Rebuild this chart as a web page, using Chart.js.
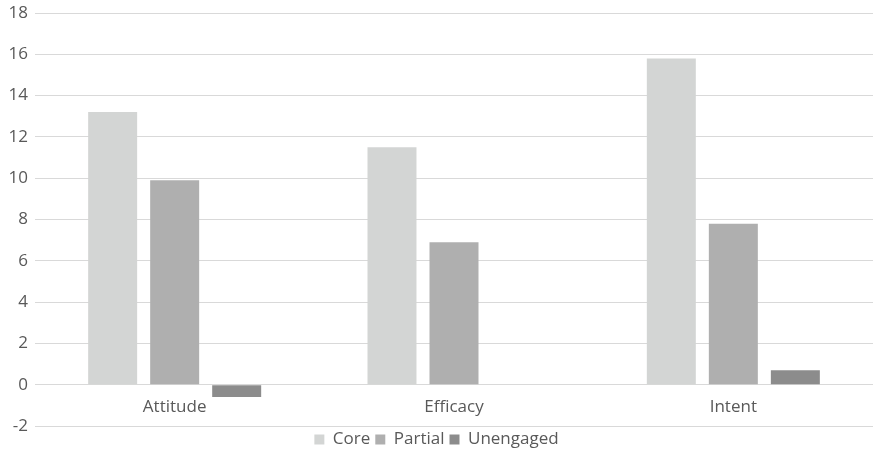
<!DOCTYPE html>
<html>
<head>
<meta charset="utf-8">
<script src="https://cdn.jsdelivr.net/npm/chart.js@4.4.1/dist/chart.umd.min.js"></script>
<style>
  html, body { margin: 0; padding: 0; background: #fff; }
  #wrap { width: 873px; height: 458px; }
</style>
</head>
<body>
<div id="wrap"><canvas id="chart" width="873" height="458"></canvas></div>
<script>
const categories = ['Attitude', 'Efficacy', 'Intent'];
const coreValues = [13.2, 11.5, 15.8];
const partialValues = [9.9, 6.9, 7.8];
const unengagedValues = [-0.6, 0, 0.7];
const yTicks = [-2, 0, 2, 4, 6, 8, 10, 12, 14, 16, 18];

const textColor = '#595959';
const fontFamily = "'Open Sans', 'Liberation Sans', sans-serif";

// category labels sit just under the zero line, like the Excel original
const zeroLineLabels = {
  id: 'zeroLineLabels',
  afterDraw(chart) {
    const { ctx, scales } = chart;
    const y0 = scales.y.getPixelForValue(0);
    ctx.save();
    ctx.font = `17px ${fontFamily}`;
    ctx.fillStyle = textColor;
    ctx.textAlign = 'center';
    ctx.textBaseline = 'middle';
    categories.forEach((label, i) => {
      ctx.fillText(label, scales.x.getPixelForTick(i), y0 + 22);
    });
    ctx.restore();
  }
};

new Chart(document.querySelector('#chart'), {
  type: 'bar',
  data: {
    labels: categories,
    datasets: [
      { label: 'Core', data: coreValues, backgroundColor: '#d3d5d4' },
      { label: 'Partial', data: partialValues, backgroundColor: '#afafaf' },
      { label: 'Unengaged', data: unengagedValues, backgroundColor: '#8c8c8c' }
    ]
  },
  options: {
    responsive: false,
    animation: false,
    datasets: { bar: { categoryPercentage: 0.666, barPercentage: 0.79 } },
    layout: { padding: { top: 0, right: 0, left: 0, bottom: 0 } },
    plugins: {
      legend: {
        position: 'bottom',
        labels: {
          boxWidth: 10,
          boxHeight: 10,
          padding: 5,
          color: textColor,
          font: { family: fontFamily, size: 17 }
        }
      },
      tooltip: { enabled: false }
    },
    scales: {
      x: {
        display: false
      },
      y: {
        min: -2,
        max: 18,
        afterBuildTicks(scale) {
          scale.ticks = yTicks.map((v) => ({ value: v }));
        },
        afterFit(scale) {
          scale.width = 35;
          scale.paddingTop = 13;
          scale.paddingBottom = 0;
        },
        grid: { color: '#d9d9d9', drawTicks: false },
        border: { display: false },
        ticks: {
          padding: 7,
          color: textColor,
          font: { family: fontFamily, size: 17 }
        }
      }
    }
  },
  plugins: [zeroLineLabels]
});
</script>
</body>
</html>
